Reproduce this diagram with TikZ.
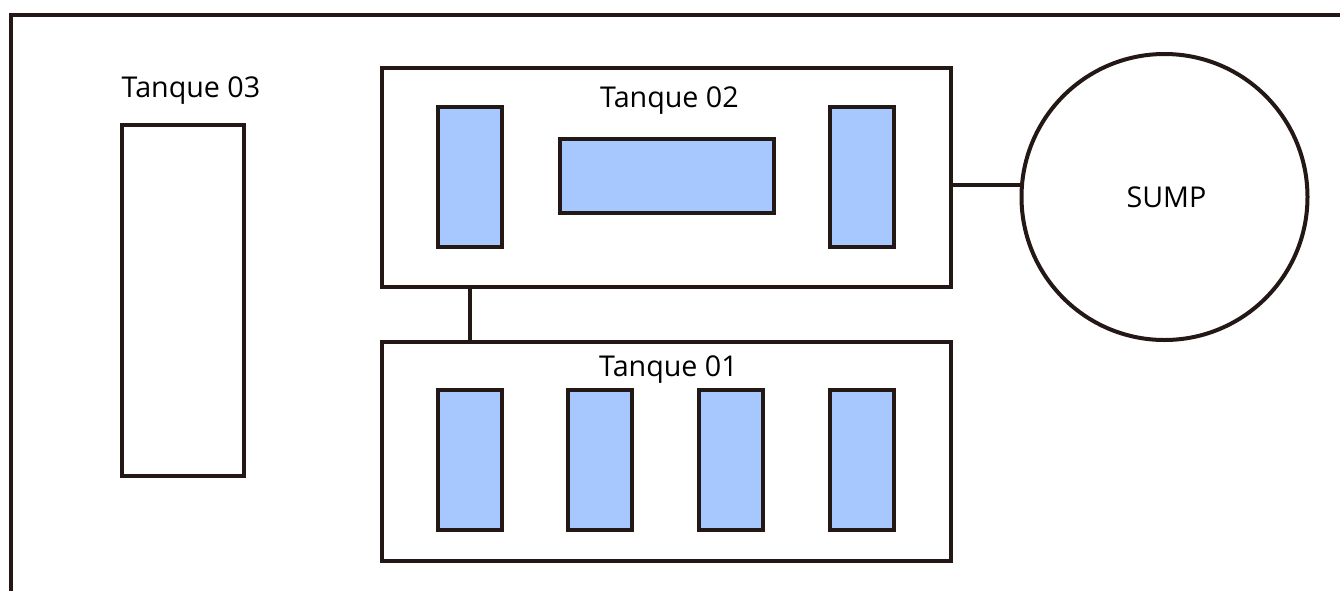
\documentclass[tikz,border=0pt]{standalone}
\usepackage{fontspec}
\setmainfont{Open Sans}
\definecolor{ink}{HTML}{231815}
\definecolor{tankblue}{HTML}{A6C8FF}
\tikzset{
  px/.style={x=0.75pt,y=-0.75pt},
  line/.style={draw=ink,line width=3pt},
  boxnode/.style={line,rectangle,inner sep=0pt,outer sep=0pt,fill=white},
  tall/.style={boxnode,fill=tankblue,minimum width=48pt,minimum height=104.5pt},
  caption/.style={inner sep=0pt,text=black,font=\fontsize{21.5}{26}\selectfont,anchor=base},
}
\begin{document}
\begin{tikzpicture}[px]
\useasboundingbox (0,0) rectangle (1340,590);
\fill[white] (0,0) rectangle (1340,590);
\coordinate (frameA) at (11,592);
\coordinate (frameB) at (11,15);
\coordinate (frameC) at (1342,15);
\draw[line,line cap=butt,line join=miter] (frameA) -- (frameB) -- (frameC);
% tanks
\node[boxnode,minimum width=91pt,minimum height=263pt] (t3) at (183,300.5) {};
\node[boxnode,minimum width=426.5pt,minimum height=164pt] (t2) at (666.5,177.5) {};
\node[boxnode,minimum width=426.5pt,minimum height=164pt] (t1) at (666.5,451.5) {};
\node[boxnode,circle,minimum size=214.5pt] (sump) at (1164.5,197) {};
% blue cells, tank 02
\node[tall] (b21) at (469.5,177) {};
\node[tall] (b23) at (861.5,177) {};
\node[boxnode,fill=tankblue,minimum width=160.5pt,minimum height=55.5pt] (b22) at (666.5,175.5) {};
% blue cells, tank 01
\node[tall] (b11) at (469.5,460) {};
\node[tall] (b12) at (600,460) {};
\node[tall] (b13) at (731,460) {};
\node[tall] (b14) at (861.5,460) {};
% connectors
\draw[line] (t2.south -| b21.south) -- (t1.north -| b21.south);
\draw[line] (t2.east |- sump.175) -- (sump.175);
% captions
\node[caption] (l3) at (191,97) {Tanque 03};
\node[caption] (l2) at (669.5,107) {Tanque 02};
\node[caption] (l1) at (668.5,376) {Tanque 01};
\node[caption] (ls) at (1166.5,207) {SUMP};
\end{tikzpicture}
\end{document}
